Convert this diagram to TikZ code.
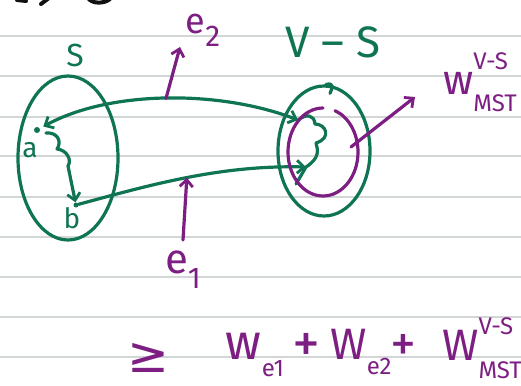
\documentclass[tikz,border=0pt]{standalone}
\usepackage{fontspec}
\setmainfont{Fira Sans}
\newfontfamily\symfont{DejaVu Sans}
\usepackage{tikz}
\usetikzlibrary{positioning,arrows.meta,shapes.geometric,calc}
\definecolor{cInk} {HTML}{0E7453}
\definecolor{cMark}{HTML}{7D1E82}
\definecolor{cRule}{HTML}{D3D6D6}
\definecolor{cPen} {HTML}{111111}
\newcommand{\lblsub}[3]{#1\raisebox{-.35em}{\fontsize{#3}{#3}\selectfont #2}}
\newcommand{\lblsupsub}[4]{#1\rlap{\raisebox{.6em}{\fontsize{#4}{#4}\selectfont #2}}%
  \raisebox{-.4em}{\fontsize{#4}{#4}\selectfont #3}}
\tikzset{
  barb/.tip={Straight Barb[length=7pt,width=13pt,line width=2.8pt]},
  gpen/.style={cInk,line width=3.2pt,line cap=round,line join=round},
  ppen/.style={cMark,line width=3.2pt,line cap=round,line join=round},
  kpen/.style={cPen,line width=4pt,line cap=round},
  parr/.style={ppen,-barb},
  setbox/.style={ellipse,draw=cInk,line width=3.2pt,inner sep=0pt},
  vdot/.style={circle,fill=cInk,inner sep=0pt,minimum size=6pt},
  glab/.style={cInk,inner sep=0pt,font=\fontsize{#1}{#1}\selectfont},
  glab/.default=32,
  plab/.style={cMark,inner sep=0pt,font=\fontsize{#1}{#1}\selectfont},
  plab/.default=40,
  rule/.style={cRule,line width=2pt},
}
\begin{document}
\begin{tikzpicture}[x=1pt,y=-1pt]
  \useasboundingbox (0,0) rectangle (521,385);
  \clip (0,0) rectangle (521,385);
  % ruled paper
  \foreach \ry in {36,76,117,156,197,237,277,317,357}
    \draw[rule] (0,\ry) -- (521,\ry);
  % cut-off strokes of the line above
  \draw[kpen] (17,0) -- (26,1);
  \draw[kpen] (41,4) -- (49,-2);
  \draw[kpen] (88,-2) .. controls (92,4) and (104,4) .. (110,-1);

  % the two sets
  \node[setbox,minimum width=100pt,minimum height=164pt] (setS) at (68,158) {};
  \node[setbox,minimum width=92pt,minimum height=130pt] (setVS) at (324,151) {};
  \draw[gpen] ($(setVS.north)+(2,0)$) .. controls +(9,-2) and +(2,-5) .. ($(setVS.north)+(6,9)$);
  \node[glab] (sLab) at (75,55) {S};
  \node[glab=44] (vsLab) at (333,42) {V – S};

  % vertices in S
  \node[vdot] (a) at (37,130) {};
  \node[vdot,minimum size=5pt] (b) at (76,205) {};
  \node[glab=28] (aLab) at (30,150) {a};
  \node[glab=28] (bLab) at (72,218) {b};
  \draw[gpen,-barb] ($(a)+(9,3)$) .. controls (58,132) and (62,142) .. (57,149)
    .. controls (67,150) and (72,160) .. (68,166) -- (b);

  % path through V-S
  \coordinate (vTop) at (298,120);
  \coordinate (vIn)  at (306,167);
  \coordinate (vLow) at (296,184);
  \draw[gpen] (vLow) -- (vIn) .. controls (320,158) and (318,150) .. (316,143)
    .. controls (332,138) and (326,124) .. (315,124) .. controls (314,114) and (306,114) .. (vTop);
  \draw[gpen,barb-barb,shorten >=4pt] (vTop) .. controls (220,90) and (110,90)
    .. node[coordinate,pos=.5] (e2Mid) {} (a);
  \draw[gpen,-barb] (b) .. controls (150,185) and (220,165)
    .. node[coordinate,pos=.5] (e1Mid) {} (vIn);

  % MST of V-S
  \coordinate (vsCtr) at (323,152);
  \draw[ppen] (vsCtr) ++(0,-44) arc[start angle=-90,end angle=-430,x radius=35,y radius=44];

  % labels
  \node[plab=36] (e2Lab) at (203,30) {\lblsub{e}{2}{30}};
  \node[plab=42] (e1Lab) at (183,270) {\lblsub{e}{1}{30}};
  \node[plab=42] (wLab) at (480,82) {\lblsupsub{w}{V-S}{MST}{24}};
  \coordinate (e2Tip) at (180,47);
  \coordinate (e1Tail) at (183,240);
  \coordinate (wTail) at (351,147);
  \coordinate (wTip) at (415,97);
  \draw[parr] (e2Mid) -- (e2Tip);
  \draw[parr] (e1Tail) -- (e1Mid);
  \draw[parr] (wTail) -- (wTip);

  % bound
  \node[plab=50] (geq) at (148,358) {\symfont ≥};
  \node[plab=50] (w1) at (255,355) {\lblsub{w}{e1}{24}};
  \node[plab=56] (pl1) at (306,348) {+};
  \node[plab=44] (w2) at (361,352) {\lblsub{W}{e2}{24}};
  \node[plab=52] (pl2) at (403,348) {+};
  \node[plab=44] (w3) at (482,348) {\lblsupsub{W}{V-S}{MST}{24}};
\end{tikzpicture}
\end{document}
